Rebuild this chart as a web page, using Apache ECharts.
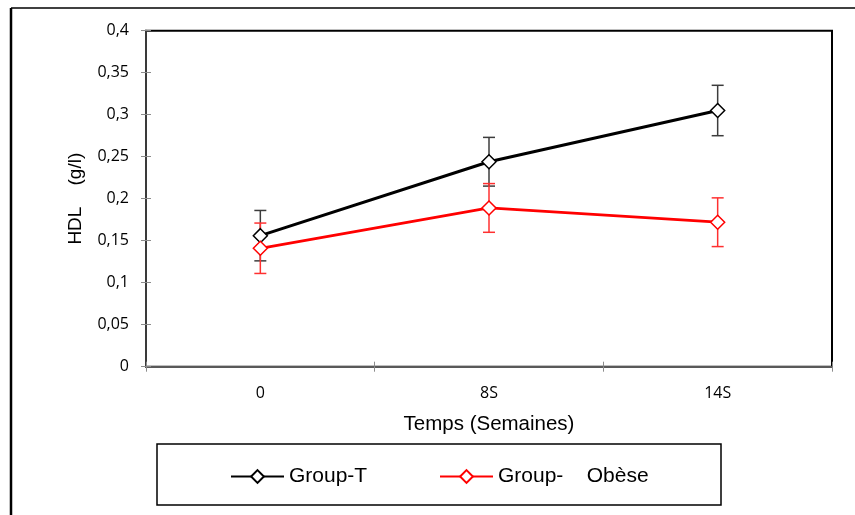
<!DOCTYPE html>
<html>
<head>
<meta charset="utf-8">
<script src="https://cdn.jsdelivr.net/npm/echarts@6/dist/echarts.min.js"></script>
<style>
html,body{margin:0;padding:0;background:#fff;}
#chart{width:855px;height:515px;}
</style>
</head>
<body>
<div id="chart"></div>
<script>
// ---- data ----
const categories = ['0', '8S', '14S'];
const groupTName = 'Group-T';
const groupOName = 'Group-    Obèse';
const groupT = [0.156, 0.244, 0.305];
const groupTErr = [0.03, 0.029, 0.03];
const groupO = [0.141, 0.189, 0.172];
const groupOErr = [0.03, 0.029, 0.029];
const yTicks = { min: 0, max: 0.4, interval: 0.05 };
const xTitle = 'Temps (Semaines)';
const yTitle = 'HDL    (g/l)';

const chart = echarts.init(document.getElementById('chart'), null, { renderer: 'canvas' });

function errData(vals, errs) {
  return vals.map((v, i) => [i, v - errs[i], v + errs[i]]);
}
function makeErrRender(color) {
  return function (params, api) {
    const lo = api.coord([api.value(0), api.value(1)]);
    const hi = api.coord([api.value(0), api.value(2)]);
    const h = 6;
    const st = { stroke: color, lineWidth: 1.5 };
    return {
      type: 'group',
      children: [
        { type: 'line', shape: { x1: lo[0], y1: lo[1], x2: hi[0], y2: hi[1] }, style: st },
        { type: 'line', shape: { x1: lo[0] - h, y1: lo[1], x2: lo[0] + h, y2: lo[1] }, style: st },
        { type: 'line', shape: { x1: hi[0] - h, y1: hi[1], x2: hi[0] + h, y2: hi[1] }, style: st }
      ]
    };
  };
}
const fmt = v => String(+v.toFixed(2)).replace('.', ',');
const tickFont = { fontFamily: 'Open Sans', fontSize: 16, color: '#000' };

const option = {
  animation: false,
  backgroundColor: '#fff',
  grid: {
    left: 146, top: 30.7, right: 23, bottom: 148.3,
    show: true, borderColor: '#000', borderWidth: 2, backgroundColor: '#fff'
  },
  graphic: [
    { type: 'line', shape: { x1: 11, y1: 8, x2: 11, y2: 520 }, style: { stroke: '#000', lineWidth: 2.5 } },
    { type: 'line', shape: { x1: 11, y1: 8, x2: 860, y2: 8 }, style: { stroke: '#000', lineWidth: 1.5 } },
    { type: 'rect', shape: { x: 157, y: 444, width: 564, height: 61 }, style: { stroke: '#000', lineWidth: 1.5, fill: '#fff' }, z: -1 }
  ],
  legend: [
    {
      data: [groupTName], left: 230, top: 466, padding: 0,
      itemWidth: 53, itemHeight: 16,
      textStyle: { fontFamily: 'Liberation Sans', fontSize: 21, color: '#000' }
    },
    {
      data: [groupOName], left: 439, top: 466, padding: 0,
      itemWidth: 53, itemHeight: 16,
      textStyle: { fontFamily: 'Liberation Sans', fontSize: 21, color: '#000' }
    }
  ],
  xAxis: [
    {
      type: 'category', data: categories, position: 'bottom',
      name: xTitle, nameLocation: 'middle', nameGap: 47,
      nameTextStyle: { fontFamily: 'Liberation Sans', fontSize: 20.5, color: '#000' },
      axisLine: { lineStyle: { color: '#595959', width: 2 } },
      axisTick: { show: true, length: 5, lineStyle: { color: '#8c8c8c', width: 1 } },
      axisLabel: Object.assign({ margin: 19 }, tickFont),
      splitLine: { show: false }
    },
    {
      type: 'category', data: categories, position: 'bottom', offset: 0,
      axisLine: { show: false },
      axisTick: { show: true, inside: true, length: 5, lineStyle: { color: '#8c8c8c', width: 1 } },
      axisLabel: { show: false },
      splitLine: { show: false }
    }
  ],
  yAxis: [
    {
      type: 'value', min: yTicks.min, max: yTicks.max, interval: yTicks.interval, position: 'left',
      name: yTitle, nameLocation: 'middle', nameGap: 61, nameRotate: 90,
      nameTextStyle: { fontFamily: 'Liberation Sans', fontSize: 19, color: '#000' },
      axisLine: { show: true, lineStyle: { color: '#3a3a3a', width: 2 } },
      axisTick: { show: true, length: 5, lineStyle: { color: '#8c8c8c', width: 1 } },
      axisLabel: Object.assign({ margin: 17, formatter: fmt }, tickFont),
      splitLine: { show: false }
    },
    {
      type: 'value', min: yTicks.min, max: yTicks.max, interval: yTicks.interval, position: 'left', offset: 0,
      axisLine: { show: false },
      axisTick: { show: true, inside: true, length: 5, lineStyle: { color: '#8c8c8c', width: 1 } },
      axisLabel: { show: false },
      splitLine: { show: false }
    }
  ],
  series: [
    {
      type: 'custom', name: 'errT', renderItem: makeErrRender('#3c3c3c'),
      data: errData(groupT, groupTErr), z: 1, silent: true
    },
    {
      type: 'custom', name: 'errO', renderItem: makeErrRender('#ff3030'),
      data: errData(groupO, groupOErr), z: 1, silent: true
    },
    {
      type: 'line', name: groupTName, data: groupT, z: 3,
      color: '#000',
      symbol: 'diamond', symbolSize: 14,
      lineStyle: { color: '#000', width: 3 },
      itemStyle: { color: '#fff', borderColor: '#000', borderWidth: 1.5 }
    },
    {
      type: 'line', name: groupOName, data: groupO, z: 3,
      color: '#ff0000',
      symbol: 'diamond', symbolSize: 14,
      lineStyle: { color: '#ff0000', width: 2.8 },
      itemStyle: { color: '#fff', borderColor: '#ff0000', borderWidth: 1.5 }
    }
  ]
};
chart.setOption(option);
</script>
</body>
</html>
